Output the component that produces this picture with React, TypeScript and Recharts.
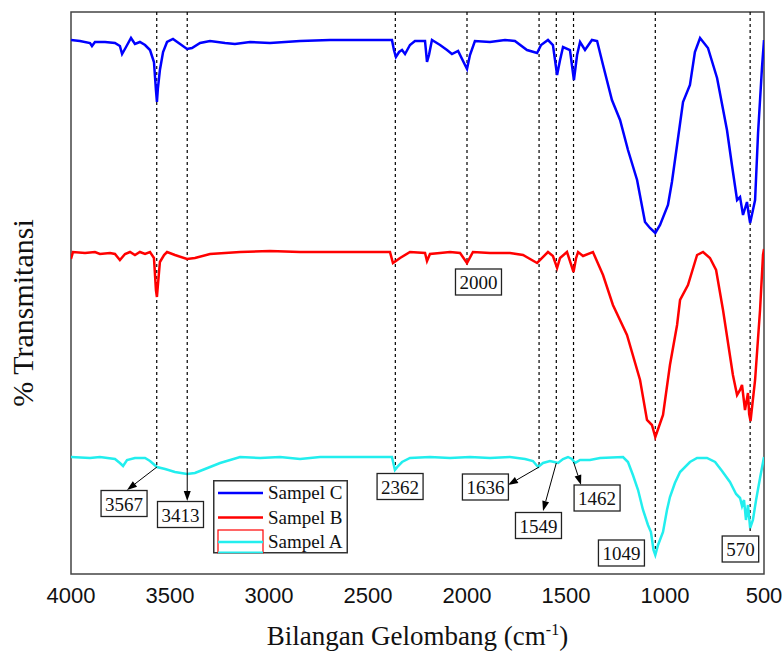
import React from 'react'
import {
  LineChart,
  Line,
  XAxis,
  YAxis,
  ReferenceLine,
  ReferenceDot,
  ReferenceArea,
  Legend,
} from 'recharts'

// wavenumber (cm-1), % transmittance (offset stacked)
const sampelC: [number, number][] = [
  [4000, 106.8], [3955, 106.6], [3904, 106.2], [3894, 105.6], [3879, 106.4], [3828, 106.4],
  [3778, 106.2], [3753, 105.6], [3742, 104], [3722, 105.4], [3697, 107.2], [3677, 106],
  [3652, 106.4], [3626, 105.8], [3601, 104.8], [3581, 102.4], [3571, 96.8], [3566, 94.4],
  [3561, 97.2], [3551, 100.8], [3535, 104.4], [3515, 106.4], [3485, 107], [3449, 106],
  [3414, 105], [3389, 105.2], [3348, 106.2], [3298, 106.6], [3222, 106.2], [3172, 106],
  [3096, 106.4], [2995, 106.2], [2843, 106.6], [2692, 106.8], [2540, 106.8], [2379, 106.8],
  [2369, 104.8], [2359, 103.4], [2343, 104.4], [2328, 104.8], [2313, 104], [2288, 105.8],
  [2263, 106.6], [2212, 106.6], [2202, 102.4], [2192, 103.8], [2177, 106.8], [2136, 105.8],
  [2101, 104.8], [2076, 104], [2045, 104.6], [2000, 101], [1985, 103.8], [1960, 106.6],
  [1884, 106.4], [1808, 106.8], [1758, 106.6], [1697, 104.8], [1646, 104.2], [1626, 105.8],
  [1591, 106.8], [1566, 105.8], [1545, 99.8], [1530, 102.8], [1515, 105.4], [1480, 104.8],
  [1460, 98.8], [1444, 103.8], [1429, 106.4], [1404, 104.8], [1369, 106.8], [1343, 106.6],
  [1313, 101.8], [1268, 94.8], [1227, 90.8], [1187, 84.8], [1141, 78.8], [1101, 70.4],
  [1076, 69.2], [1049, 68.2], [1025, 69.8], [985, 73.8], [965, 78.4], [939, 85.8],
  [909, 94.4], [874, 97.8], [849, 104.4], [823, 107.2], [783, 105.2], [737, 99.2],
  [687, 88.8], [662, 81.8], [636, 74.8], [621, 75.4], [606, 71.8], [586, 74.4],
  [575, 71.4], [570, 70.2], [545, 74.8], [530, 88.2], [510, 101.4], [500, 106.8],
]

const sampelB: [number, number][] = [
  [4000, 63], [3990, 64.4], [3929, 64.2], [3879, 64.4], [3854, 64], [3803, 64.2],
  [3778, 64], [3753, 62.8], [3727, 64], [3702, 64.4], [3677, 63.8], [3652, 64.4],
  [3626, 64], [3601, 64.4], [3581, 63.2], [3571, 56.8], [3566, 55.4], [3561, 57.8],
  [3551, 62.4], [3530, 63.8], [3515, 64.4], [3475, 63.8], [3414, 63], [3374, 63.2],
  [3298, 64], [3146, 64.4], [2995, 64.6], [2843, 64.4], [2540, 64.4], [2389, 64.4],
  [2374, 62.2], [2359, 62.6], [2338, 63.2], [2288, 64.4], [2212, 64.2], [2202, 62.6],
  [2187, 64], [2136, 64.2], [2086, 64.4], [2035, 64.2], [2000, 62.2], [1970, 64.4],
  [1884, 64.2], [1783, 64.2], [1717, 63.8], [1646, 62.2], [1591, 64.4], [1566, 63.6],
  [1545, 61.2], [1530, 63.2], [1495, 64.4], [1462, 60.4], [1449, 63.2], [1439, 64.4],
  [1414, 63.6], [1364, 64.4], [1313, 59.8], [1263, 53.8], [1192, 47.8], [1126, 38.8],
  [1091, 30.8], [1066, 29.8], [1049, 27.4], [1010, 31.8], [975, 41.8], [939, 49.8],
  [924, 54.8], [884, 57.8], [838, 63.8], [808, 64.4], [773, 63.2], [742, 60.8],
  [707, 52.8], [657, 39.8], [636, 35.8], [621, 36.8], [611, 37.8], [596, 32.8],
  [581, 36.2], [575, 32], [568, 30.6], [545, 38.8], [520, 52.8], [505, 63.8], [500, 65],
]

const sampelA: [number, number][] = [
  [4000, 23.4], [3904, 23.2], [3854, 23.4], [3778, 23], [3753, 22.2], [3737, 21.6],
  [3717, 22.8], [3677, 23.2], [3626, 23.2], [3601, 22.6], [3566, 21.4], [3525, 21],
  [3475, 20.4], [3414, 20], [3374, 20.2], [3323, 21], [3247, 22.2], [3146, 23.4],
  [3045, 23.2], [2944, 23.4], [2843, 23], [2742, 23.4], [2490, 23.4], [2379, 23.4],
  [2364, 20.8], [2348, 21.6], [2328, 22.4], [2288, 23.2], [2187, 23.4], [2086, 23.2],
  [1985, 23.4], [1884, 23.2], [1783, 23.4], [1707, 23], [1667, 22.6], [1641, 21.4],
  [1616, 22.2], [1581, 22.6], [1540, 22.2], [1515, 23], [1490, 23.4], [1470, 23],
  [1455, 22.2], [1429, 22.8], [1379, 22.8], [1328, 23.2], [1212, 23.4], [1187, 22.4],
  [1162, 19.8], [1136, 16.8], [1111, 12.8], [1086, 9.8], [1071, 8.4], [1058, 4.8],
  [1049, 3.8], [1035, 5.8], [1010, 8.4], [990, 12.8], [975, 15.4], [950, 18.2],
  [924, 20.4], [874, 22.4], [838, 23.2], [788, 23.2], [747, 22.4], [712, 20.6],
  [672, 18.4], [641, 16], [621, 15.2], [611, 13.6], [601, 14.8], [591, 10.8],
  [581, 13.8], [570, 9.2], [556, 10.8], [540, 14.8], [520, 19.2], [500, 23.4],
]

const xTicks = [4000, 3500, 3000, 2500, 2000, 1500, 1000, 500]
const peaks = [3567, 3413, 2362, 2000, 1636, 1549, 1462, 1049, 570]

const seriesNames = ['Sampel C', 'Sampel B', 'Sampel A']
const seriesColors = ['#0000ff', '#ff0000', '#22eeee']

const Y_TOP = 112.4

// annotation layout: where each dashed guide stops, where its label box sits
const guideEnd = [21.4, 20.8, 21.6, 61.8, 21.4, 22.4, 22.4, 4.2, 8.2]
const boxAt: [number, number][] = [
  [3732, 14.1], [3447, 11.9], [2338, 17.5], [1942, 58.4], [1907, 17.4],
  [1639, 9.7], [1343, 15.2], [1220, 4.2], [619, 5],
]
const arrows: [[number, number], [number, number]][] = [
  [[3566, 21.4], [3717, 16.8]],
  [[3413, 20.8], [3413, 14.6]],
  [[1636, 21.4], [1793, 17.8]],
  [[1549, 22.2], [1616, 12.6]],
  [[1462, 22.4], [1424, 17.8]],
]

const toRows = (s: [number, number][]) => s.map(([w, v]) => ({ w, v }))

const serif = 'Liberation Serif'

const BoxLabel = (text: string) => (props: any) => {
  const { cx, cy } = props
  const w = text.length * 9.5 + 8
  return (
    <g>
      <rect x={cx - w / 2} y={cy - 13} width={w} height={26} fill="#fff" stroke="#222" strokeWidth={1.3} />
      <text
        x={cx}
        y={cy + 7}
        textAnchor="middle"
        fontFamily={serif}
        fontSize={19}
        style={{ fontFamily: "'Liberation Serif', serif" }}
        fill="#111"
      >
        {text}
      </text>
    </g>
  )
}

const ArrowShape = (props: any) => {
  const { x1, y1, x2, y2 } = props
  const a = Math.atan2(y2 - y1, x2 - x1)
  const L = 10
  const h = 3.5
  const bx = x2 - L * Math.cos(a)
  const by = y2 - L * Math.sin(a)
  const p = `${x2},${y2} ${bx + h * Math.sin(a)},${by - h * Math.cos(a)} ${bx - h * Math.sin(a)},${by + h * Math.cos(a)}`
  return (
    <g>
      <line x1={x1} y1={y1} x2={bx} y2={by} stroke="#000" strokeWidth={1} />
      <polygon points={p} fill="#000" />
    </g>
  )
}

const LegendBox = () => (
  <div style={{ position: 'relative', width: 135, height: 74, fontFamily: "'Liberation Serif', serif", fontSize: 19, lineHeight: 1, color: '#111' }}>
    <svg width={135} height={74} style={{ position: 'absolute', left: 0, top: 0 }}>
      <rect x={0.75} y={0.75} width={133.5} height={72} fill="#fff" stroke="#333" strokeWidth={1.5} />
      <rect x={5} y={50} width={45} height={23} fill="none" stroke="#ff0000" strokeWidth={1.2} />
      <line x1={5} y1={72.5} x2={50} y2={72.5} stroke={seriesColors[2]} strokeWidth={2} />
      {seriesNames.map((n, i) => (
        <line key={n} x1={5} y1={13 + i * 24.5} x2={50} y2={13 + i * 24.5} stroke={seriesColors[i]} strokeWidth={2.5} />
      ))}
    </svg>
    {seriesNames.map((n, i) => (
      <div key={n} style={{ position: 'absolute', left: 55, top: 3 + i * 24.5, whiteSpace: 'nowrap' }}>
        {n}
      </div>
    ))}
  </div>
)

export default function App() {
  const series = [sampelC, sampelB, sampelA]
  return (
    <div style={{ position: 'absolute', left: 0, top: 0, width: 784, height: 652, background: '#fff' }}>
      <LineChart width={784} height={652} margin={{ top: 12, right: 20, left: 71, bottom: 48 }}>
        <XAxis
          type="number"
          dataKey="w"
          domain={[500, 4000]}
          reversed
          ticks={xTicks}
          interval={0}
          allowDataOverflow
          axisLine={false}
          tickLine={false}
          tickMargin={7}
          height={30}
          tick={{ fontSize: 22, fill: '#111', fontFamily: '"Liberation Sans", Arial, sans-serif' }}
        />
        <YAxis type="number" hide domain={[0, Y_TOP]} allowDataOverflow />
        {peaks.map((p, i) => (
          <ReferenceLine
            key={'g' + p}
            segment={[{ x: p, y: Y_TOP }, { x: p, y: guideEnd[i] }]}
            stroke="#000"
            strokeWidth={1.2}
            strokeDasharray="3 3"
            ifOverflow="visible"
          />
        ))}
        {series
          .map((s, i) => (
            <Line
              key={seriesNames[i]}
              name={seriesNames[i]}
              data={toRows(s)}
              dataKey="v"
              type="linear"
              stroke={seriesColors[i]}
              strokeWidth={2.5}
              dot={false}
              activeDot={false}
              isAnimationActive={false}
            />
          ))
          .reverse()}
        {arrows.map(([a, b], i) => (
          <ReferenceLine
            key={'a' + i}
            segment={[{ x: a[0], y: a[1] }, { x: b[0], y: b[1] }]}
            shape={ArrowShape}
            ifOverflow="visible"
          />
        ))}
        {peaks.map((p, i) => (
          <ReferenceDot
            key={'b' + p}
            x={boxAt[i][0]}
            y={boxAt[i][1]}
            r={0}
            ifOverflow="visible"
            shape={BoxLabel(String(p))}
          />
        ))}
        <ReferenceArea
          x1={4000}
          x2={500}
          y1={0}
          y2={Y_TOP}
          fill="none"
          stroke="#444"
          strokeWidth={1.5}
          ifOverflow="visible"
        />
        <Legend
          layout="horizontal"
          verticalAlign="middle"
          align="center"
          content={LegendBox}
          wrapperStyle={{ left: 213, top: 480, width: 135, height: 74 }}
        />
      </LineChart>
      <div
        style={{
          position: 'absolute',
          left: 23,
          top: 313,
          transform: 'translate(-50%, -50%) rotate(-90deg)',
          whiteSpace: 'nowrap',
          fontFamily: "'Liberation Serif', serif",
          fontSize: 30,
          lineHeight: 1,
          color: '#111',
        }}
      >
        % Transmitansi
      </div>
      <div
        style={{
          position: 'absolute',
          left: 71,
          width: 693,
          top: 623,
          textAlign: 'center',
          whiteSpace: 'nowrap',
          fontFamily: "'Liberation Serif', serif",
          fontSize: 27,
          lineHeight: 1,
          color: '#111',
        }}
      >
        Bilangan Gelombang (cm
        <span style={{ position: 'relative', top: -10, fontSize: 16 }}>-1</span>)
      </div>
    </div>
  )
}
